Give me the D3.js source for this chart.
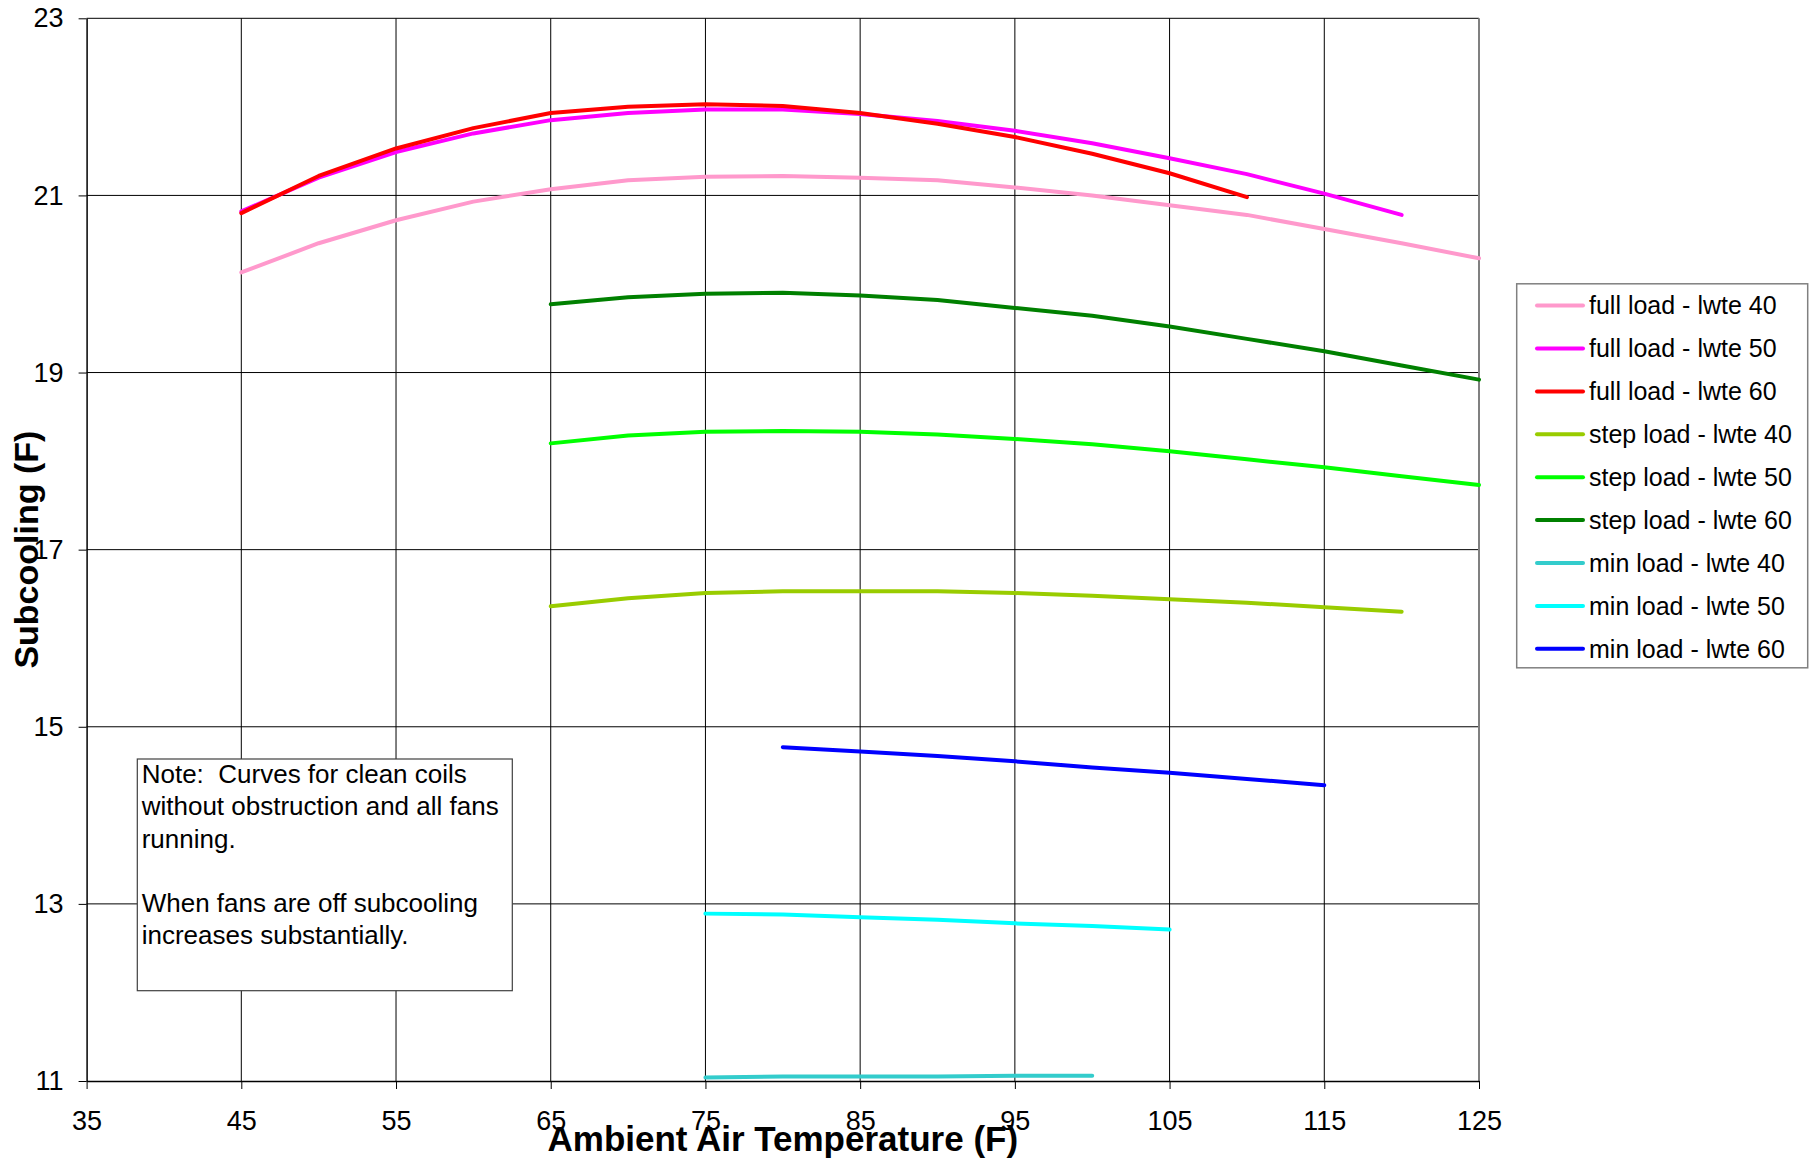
<!DOCTYPE html>
<html>

<head>
    <meta charset="UTF-8">
    <title>Subcooling vs Ambient Air Temperature</title>
    <script src="https://d3js.org/d3.v7.min.js"></script>
    <style>
        body { margin: 0; background: #fff; }
        text { font-family: "Liberation Sans", Arial, sans-serif; }
    </style>
</head>

<body>

    <script>
        // ambient temperatures (F), one point every 5 degrees
        var xTicks = [35, 45, 55, 65, 75, 85, 95, 105, 115, 125];
        var yTicks = [11, 13, 15, 17, 19, 21, 23];

        // subcooling (F), each series starts at its own temperature
        var fullLoad40 = [20.13, 20.46, 20.72, 20.93, 21.07, 21.17, 21.21, 21.22, 21.20, 21.17, 21.09, 21.00, 20.89, 20.78, 20.62, 20.46, 20.29]; // 45..125
        var fullLoad50 = [20.82, 21.20, 21.49, 21.70, 21.85, 21.93, 21.97, 21.97, 21.92, 21.84, 21.73, 21.59, 21.42, 21.24, 21.02, 20.78]; // 45..120
        var fullLoad60 = [20.80, 21.22, 21.53, 21.76, 21.93, 22.00, 22.03, 22.01, 21.93, 21.81, 21.66, 21.47, 21.25, 20.98]; // 45..110
        var stepLoad40 = [16.36, 16.45, 16.51, 16.53, 16.53, 16.53, 16.51, 16.48, 16.44, 16.40, 16.35, 16.30]; // 65..120
        var stepLoad50 = [18.20, 18.29, 18.33, 18.34, 18.33, 18.30, 18.25, 18.19, 18.11, 18.02, 17.93, 17.83, 17.73]; // 65..125
        var stepLoad60 = [19.77, 19.85, 19.89, 19.90, 19.87, 19.82, 19.73, 19.64, 19.52, 19.38, 19.24, 19.08, 18.92]; // 65..125
        var minLoad40 = [11.04, 11.05, 11.05, 11.05, 11.06, 11.06]; // 75..100
        var minLoad50 = [12.89, 12.88, 12.85, 12.82, 12.78, 12.75, 12.71]; // 75..105
        var minLoad60 = [14.77, 14.72, 14.67, 14.61, 14.54, 14.48, 14.41, 14.34]; // 80..115

        var seriesNames = ["full load - lwte 40", "full load - lwte 50", "full load - lwte 60",
            "step load - lwte 40", "step load - lwte 50", "step load - lwte 60",
            "min load - lwte 40", "min load - lwte 50", "min load - lwte 60"];
        var seriesStart = [45, 45, 45, 65, 65, 65, 75, 75, 80];
        var seriesValues = [fullLoad40, fullLoad50, fullLoad60, stepLoad40, stepLoad50, stepLoad60, minLoad40, minLoad50, minLoad60];
        var seriesColors = ["#FF99CC", "#FF00FF", "#FF0000", "#99CC00", "#00FF00", "#008000", "#33CCCC", "#00FFFF", "#0000FF"];

        var noteLines = ["Note:  Curves for clean coils", "without obstruction and all fans", "running.", "",
            "When fans are off subcooling", "increases substantially."];

        // build {t, v} points for every series
        function buildSeries() {
            return seriesNames.map(function (name, i) {
                return {
                    name: name,
                    color: seriesColors[i],
                    points: seriesValues[i].map(function (v, j) {
                        return { t: seriesStart[i] + 5 * j, v: v };
                    })
                };
            });
        }

        function drawChart(series) {
            var width = 1809, height = 1161;
            var left = 86.6, right = 1479, top = 18.3, bottom = 1081;

            var svg = d3.select("body").append("svg")
                .attr("width", width)
                .attr("height", height)
                .style("background", "#fff");

            var x = d3.scaleLinear().domain([35, 125]).range([left, right]);
            var y = d3.scaleLinear().domain([11, 23]).range([bottom, top]);

            // gridlines
            svg.append("g").selectAll("line.v")
                .data(xTicks.slice(1, -1))
                .join("line")
                .attr("x1", function (d) { return x(d); })
                .attr("x2", function (d) { return x(d); })
                .attr("y1", top).attr("y2", bottom)
                .attr("stroke", "#000").attr("stroke-width", 1);

            svg.append("g").selectAll("line.h")
                .data(yTicks.slice(1))
                .join("line")
                .attr("x1", left).attr("x2", right)
                .attr("y1", function (d) { return y(d); })
                .attr("y2", function (d) { return y(d); })
                .attr("stroke", "#000").attr("stroke-width", 1);

            // right border of plot area
            svg.append("line")
                .attr("x1", right).attr("x2", right)
                .attr("y1", top).attr("y2", bottom)
                .attr("stroke", "#808080").attr("stroke-width", 2);

            // axes
            var yAxis = svg.append("g")
                .attr("transform", "translate(" + left + ",0)")
                .call(d3.axisLeft(y).tickValues(yTicks).tickSize(8).tickPadding(15).tickSizeOuter(0));
            var xAxis = svg.append("g")
                .attr("transform", "translate(0," + bottom + ")")
                .call(d3.axisBottom(x).tickValues(xTicks).tickSize(8).tickPadding(22).tickSizeOuter(0));

            [xAxis, yAxis].forEach(function (g) {
                g.select(".domain").attr("stroke", "#000").attr("stroke-width", 1.5);
                g.selectAll(".tick line").attr("stroke", "#000");
                g.selectAll(".tick text")
                    .attr("fill", "#000")
                    .style("font-size", "27px")
                    .style("font-family", "'Liberation Sans', Arial, sans-serif");
            });

            // note box
            var note = svg.append("g");
            note.append("rect")
                .attr("x", 137.3).attr("y", 759)
                .attr("width", 375).attr("height", 231.7)
                .attr("fill", "#fff")
                .attr("stroke", "#404040").attr("stroke-width", 1.2);
            note.selectAll("text")
                .data(noteLines)
                .join("text")
                .attr("x", 141.7)
                .attr("y", function (d, i) { return 774 + i * 32.2; })
                .attr("dy", "0.35em")
                .style("font-size", "26px")
                .style("white-space", "pre")
                .attr("fill", "#000")
                .text(function (d) { return d; });

            // data lines
            var line = d3.line()
                .x(function (d) { return x(d.t); })
                .y(function (d) { return y(d.v); });

            svg.append("g").selectAll("path")
                .data(series)
                .join("path")
                .attr("d", function (d) { return line(d.points); })
                .attr("fill", "none")
                .attr("stroke", function (d) { return d.color; })
                .attr("stroke-width", 4)
                .attr("stroke-linejoin", "round")
                .attr("stroke-linecap", "round");

            // axis titles
            svg.append("text")
                .attr("x", (left + right) / 2)
                .attr("y", 1151)
                .attr("text-anchor", "middle")
                .style("font-size", "35px")
                .style("font-weight", "bold")
                .attr("fill", "#000")
                .text("Ambient Air Temperature (F)");

            svg.append("text")
                .attr("transform", "translate(38," + ((top + bottom) / 2) + ") rotate(-90)")
                .attr("text-anchor", "middle")
                .style("font-size", "34px")
                .style("font-weight", "bold")
                .attr("fill", "#000")
                .text("Subcooling (F)");

            // legend
            var legend = svg.append("g");
            legend.append("rect")
                .attr("x", 1516.7).attr("y", 283.8)
                .attr("width", 291).attr("height", 384)
                .attr("fill", "#fff")
                .attr("stroke", "#808080").attr("stroke-width", 1.5);

            var item = legend.selectAll("g.item")
                .data(series)
                .join("g")
                .attr("transform", function (d, i) { return "translate(0," + (305.6 + i * 42.9) + ")"; });
            item.append("line")
                .attr("x1", 1537).attr("x2", 1583)
                .attr("stroke", function (d) { return d.color; })
                .attr("stroke-width", 4)
                .attr("stroke-linecap", "round");
            item.append("text")
                .attr("x", 1589)
                .attr("dy", "0.35em")
                .style("font-size", "25px")
                .attr("fill", "#000")
                .text(function (d) { return d.name; });
        }

        drawChart(buildSeries());
    </script>
</body>

</html>
